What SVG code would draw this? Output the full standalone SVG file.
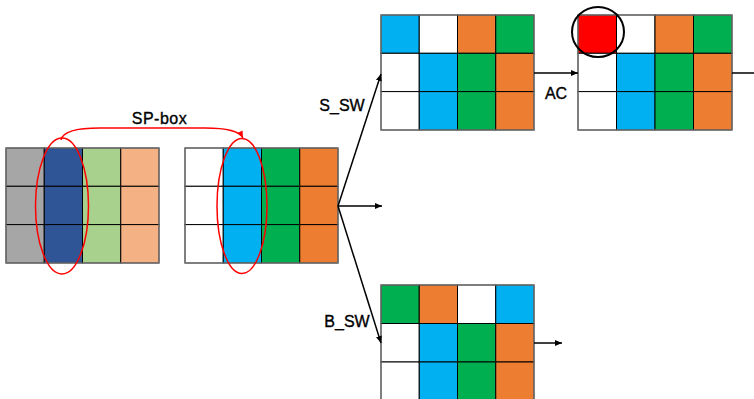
<svg xmlns="http://www.w3.org/2000/svg" width="754" height="399" viewBox="0 0 754 399">
<defs>
<style>
.c{stroke:#000;stroke-width:1}
.o{fill:none;stroke:#7f7f7f;stroke-width:1.2}
.gy{fill:#a6a6a6}.db{fill:#2f5597}.lg{fill:#a9d18e}.lo{fill:#f4b183}
.w{fill:#fff}.lb{fill:#00b0f0}.g{fill:#00b050}.or{fill:#ed7d31}.r{fill:#ff0000}
.t{font-family:"Liberation Sans",Arial,sans-serif;font-size:16px;fill:#000;stroke:#000;stroke-width:0.35}
.ln{stroke:#000;stroke-width:1.5;fill:none}
</style>
<marker id="ah" markerWidth="8" markerHeight="8" refX="7" refY="4" orient="auto" markerUnits="userSpaceOnUse">
<path d="M0,1 L7,4 L0,7 Z" fill="#000"/>
</marker>
<marker id="ahr" markerWidth="8" markerHeight="8" refX="7" refY="4" orient="auto" markerUnits="userSpaceOnUse">
<path d="M0,1 L7,4 L0,7 Z" fill="#ff0000"/>
</marker>
</defs>
<g id="grid1">
<rect class="c gy" x="6" y="148" width="38.25" height="38.3"/>
<rect class="c gy" x="6" y="186.3" width="38.25" height="38.3"/>
<rect class="c gy" x="6" y="224.6" width="38.25" height="38.4"/>
<rect class="c db" x="44.25" y="148" width="38.25" height="38.3"/>
<rect class="c db" x="44.25" y="186.3" width="38.25" height="38.3"/>
<rect class="c db" x="44.25" y="224.6" width="38.25" height="38.4"/>
<rect class="c lg" x="82.5" y="148" width="38.25" height="38.3"/>
<rect class="c lg" x="82.5" y="186.3" width="38.25" height="38.3"/>
<rect class="c lg" x="82.5" y="224.6" width="38.25" height="38.4"/>
<rect class="c lo" x="120.75" y="148" width="38.25" height="38.3"/>
<rect class="c lo" x="120.75" y="186.3" width="38.25" height="38.3"/>
<rect class="c lo" x="120.75" y="224.6" width="38.25" height="38.4"/>
<rect class="o" x="6" y="148" width="153" height="115"/>
</g>
<g id="grid2">
<rect class="c w" x="185" y="148" width="38.25" height="38.3"/>
<rect class="c w" x="185" y="186.3" width="38.25" height="38.3"/>
<rect class="c w" x="185" y="224.6" width="38.25" height="38.4"/>
<rect class="c lb" x="223.25" y="148" width="38.25" height="38.3"/>
<rect class="c lb" x="223.25" y="186.3" width="38.25" height="38.3"/>
<rect class="c lb" x="223.25" y="224.6" width="38.25" height="38.4"/>
<rect class="c g" x="261.5" y="148" width="38.25" height="38.3"/>
<rect class="c g" x="261.5" y="186.3" width="38.25" height="38.3"/>
<rect class="c g" x="261.5" y="224.6" width="38.25" height="38.4"/>
<rect class="c or" x="299.75" y="148" width="38.25" height="38.3"/>
<rect class="c or" x="299.75" y="186.3" width="38.25" height="38.3"/>
<rect class="c or" x="299.75" y="224.6" width="38.25" height="38.4"/>
<rect class="o" x="185" y="148" width="153" height="115"/>
</g>
<g id="grid3">
<rect class="c lb" x="381" y="15" width="38.25" height="38.3"/>
<rect class="c w" x="381" y="53.3" width="38.25" height="38.3"/>
<rect class="c w" x="381" y="91.6" width="38.25" height="38.4"/>
<rect class="c w" x="419.25" y="15" width="38.25" height="38.3"/>
<rect class="c lb" x="419.25" y="53.3" width="38.25" height="38.3"/>
<rect class="c lb" x="419.25" y="91.6" width="38.25" height="38.4"/>
<rect class="c or" x="457.5" y="15" width="38.25" height="38.3"/>
<rect class="c g" x="457.5" y="53.3" width="38.25" height="38.3"/>
<rect class="c g" x="457.5" y="91.6" width="38.25" height="38.4"/>
<rect class="c g" x="495.75" y="15" width="38.25" height="38.3"/>
<rect class="c or" x="495.75" y="53.3" width="38.25" height="38.3"/>
<rect class="c or" x="495.75" y="91.6" width="38.25" height="38.4"/>
<rect class="o" x="381" y="15" width="153" height="115"/>
</g>
<g id="grid4">
<rect class="c r" x="578" y="15" width="38.5" height="38.3"/>
<rect class="c w" x="578" y="53.3" width="38.5" height="38.3"/>
<rect class="c w" x="578" y="91.6" width="38.5" height="38.4"/>
<rect class="c w" x="616.5" y="15" width="38.5" height="38.3"/>
<rect class="c lb" x="616.5" y="53.3" width="38.5" height="38.3"/>
<rect class="c lb" x="616.5" y="91.6" width="38.5" height="38.4"/>
<rect class="c or" x="655" y="15" width="38.5" height="38.3"/>
<rect class="c g" x="655" y="53.3" width="38.5" height="38.3"/>
<rect class="c g" x="655" y="91.6" width="38.5" height="38.4"/>
<rect class="c g" x="693.5" y="15" width="38.5" height="38.3"/>
<rect class="c or" x="693.5" y="53.3" width="38.5" height="38.3"/>
<rect class="c or" x="693.5" y="91.6" width="38.5" height="38.4"/>
<rect class="o" x="578" y="15" width="154" height="115"/>
<ellipse cx="598" cy="32" rx="26" ry="25" fill="none" stroke="#000" stroke-width="2"/>
</g>
<g id="grid5">
<rect class="c g" x="381" y="285" width="38.25" height="38.5"/>
<rect class="c w" x="381" y="323.5" width="38.25" height="38.5"/>
<rect class="c w" x="381" y="362" width="38.25" height="38.5"/>
<rect class="c or" x="419.25" y="285" width="38.25" height="38.5"/>
<rect class="c lb" x="419.25" y="323.5" width="38.25" height="38.5"/>
<rect class="c lb" x="419.25" y="362" width="38.25" height="38.5"/>
<rect class="c w" x="457.5" y="285" width="38.25" height="38.5"/>
<rect class="c g" x="457.5" y="323.5" width="38.25" height="38.5"/>
<rect class="c g" x="457.5" y="362" width="38.25" height="38.5"/>
<rect class="c lb" x="495.75" y="285" width="38.25" height="38.5"/>
<rect class="c or" x="495.75" y="323.5" width="38.25" height="38.5"/>
<rect class="c or" x="495.75" y="362" width="38.25" height="38.5"/>
<rect class="o" x="381" y="285" width="153" height="116"/>
</g>
<g id="connectors">
<ellipse cx="62" cy="206" rx="26.5" ry="68" fill="none" stroke="#ff0000" stroke-width="1.5"/>
<ellipse cx="242" cy="206" rx="25" ry="67.5" fill="none" stroke="#ff0000" stroke-width="1.5"/>
<path d="M61,140 Q63,128 100,128 L205,128 Q238,128 243,138" fill="none" stroke="#ff0000" stroke-width="1.5" marker-end="url(#ahr)"/>
<line class="ln" x1="338" y1="206" x2="381" y2="74" marker-end="url(#ah)"/>
<line class="ln" x1="338" y1="206" x2="382" y2="206" marker-end="url(#ah)"/>
<line class="ln" x1="338" y1="206" x2="381" y2="343" marker-end="url(#ah)"/>
<line class="ln" x1="534" y1="73" x2="578" y2="73" marker-end="url(#ah)"/>
<line class="ln" x1="732" y1="73" x2="754" y2="73"/>
<line class="ln" x1="534" y1="343" x2="562" y2="343" marker-end="url(#ah)"/>
</g>
<g id="labels">
<text class="t" x="159.5" y="124" text-anchor="middle" letter-spacing="0.5">SP-box</text>
<text class="t" x="342" y="111" text-anchor="middle">S_SW</text>
<text class="t" x="347" y="327" text-anchor="middle">B_SW</text>
<text class="t" x="556" y="99" text-anchor="middle">AC</text>
</g>
</svg>
